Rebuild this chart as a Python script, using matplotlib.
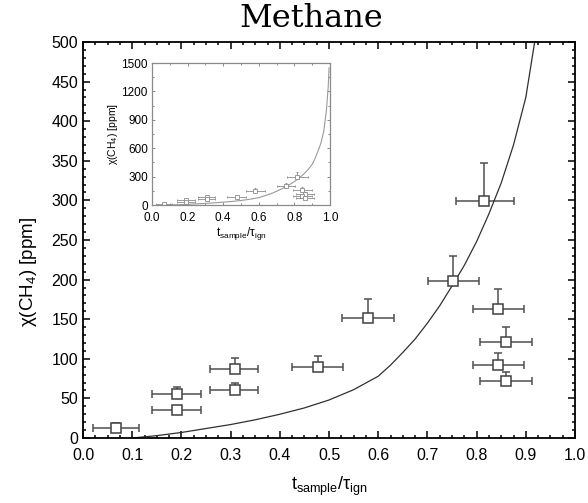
import numpy as np
import matplotlib as mpl
mpl.use("Agg")
import matplotlib.pyplot as plt
from matplotlib.ticker import MultipleLocator

plt.rcParams['font.family'] = ['Liberation Sans', 'DejaVu Sans']
plt.rcParams['mathtext.fontset'] = 'custom'
plt.rcParams['mathtext.rm'] = 'Liberation Sans'
plt.rcParams['mathtext.it'] = 'Liberation Sans:italic'

#%% Data
t_ratio = [0.067, 0.19, 0.19, 0.308, 0.308, 0.477, 0.58, 0.752, 0.816, 0.844, 0.859, 0.844, 0.859]
ch4_ppm = [13, 55.5, 35.4, 87.5, 60, 90, 151.5, 198, 299, 162.5, 121.6, 92, 72.4]
ch4_top = [18.5, 64, 35.4, 101.4, 69, 103.5, 175, 230, 347.6, 188, 140.5, 107, 83.7]
t_low = [0.020, 0.14, 0.14, 0.259, 0.259, 0.424, 0.526, 0.702, 0.758, 0.793, 0.807, 0.793, 0.807]
t_high = [0.114, 0.24, 0.24, 0.356, 0.356, 0.528, 0.633, 0.805, 0.877, 0.897, 0.912, 0.897, 0.912]

# model curve
curve_t = [0.10, 0.15, 0.20, 0.25, 0.30, 0.35, 0.40, 0.45, 0.50, 0.55, 0.60, 0.625, 0.65, 0.675,
           0.70, 0.725, 0.75, 0.775, 0.80, 0.825, 0.85, 0.875, 0.90, 0.918, 0.935, 0.95,
           0.965, 0.98, 0.99, 0.995]
curve_ppm = [0, 3, 7, 12, 17, 23, 30, 38, 48, 61, 78, 92, 108, 125,
             145, 167, 192, 218, 248, 283, 322, 370, 430, 500, 580, 660,
             780, 1000, 1250, 1450]

x = np.array(t_ratio)
y = np.array(ch4_ppm)
yerr = [np.zeros(len(y)), np.array(ch4_top) - y]
xerr = [x - np.array(t_low), np.array(t_high) - x]

fig = plt.figure(figsize=(5.88, 5.03), dpi=100)

ax = fig.add_axes([0.1412, 0.1292, 0.8367, 0.7873])
ax.errorbar(x, y, yerr=yerr, xerr=xerr, fmt='s', mfc='white', mec='#404040',
            ms=7, mew=1.1, ecolor='#505050', elinewidth=1.1, capsize=3, capthick=1.1)
ax.plot(curve_t, curve_ppm, color='#303030', lw=0.9)
ax.set_xlim(0, 1.0)
ax.set_ylim(0, 500)
ax.xaxis.set_major_locator(MultipleLocator(0.1))
ax.xaxis.set_minor_locator(MultipleLocator(0.025))
ax.yaxis.set_major_locator(MultipleLocator(50))
ax.yaxis.set_minor_locator(MultipleLocator(10))
ax.xaxis.set_major_formatter(mpl.ticker.FormatStrFormatter('%.1f'))
ax.tick_params(which='both', direction='in', top=True, right=True, labelsize=11.5, width=1.1)
ax.tick_params(axis='x', pad=7)
ax.tick_params(which='major', length=5)
ax.tick_params(which='minor', length=2.5)
for s in ax.spines.values():
    s.set_linewidth(1.3)
ax.set_xlabel("t$_\\mathrm{sample}$/τ$_\\mathrm{ign}$", fontsize=13, labelpad=9)
ax.set_ylabel("χ(CH$_4$) [ppm]", fontsize=13.5)
ax.yaxis.set_label_coords(-0.09, 0.42)

fig.text(0.53, 0.963, "Methane", family='DejaVu Serif', fontsize=23, ha='center', va='center')

#%% Inset
ins = fig.add_axes([0.2585, 0.5924, 0.3027, 0.2823])
gray = '#8a8a8a'
ins.errorbar(x, y, yerr=yerr, xerr=xerr, fmt='s', mfc='white', mec=gray,
             ms=2.5, mew=0.6, ecolor=gray, elinewidth=0.6, capsize=1, capthick=0.6)
ins.plot(curve_t, curve_ppm, color='#9a9a9a', lw=0.8)
ins.set_xlim(0, 1.0)
ins.set_ylim(0, 1500)
ins.xaxis.set_major_locator(MultipleLocator(0.2))
ins.xaxis.set_minor_locator(MultipleLocator(0.1))
ins.yaxis.set_major_locator(MultipleLocator(300))
ins.yaxis.set_minor_locator(MultipleLocator(150))
ins.xaxis.set_major_formatter(mpl.ticker.FormatStrFormatter('%.1f'))
ins.tick_params(which='both', direction='in', top=True, right=True, labelsize=8.5,
                color=gray, width=0.7, pad=3)
ins.tick_params(axis='x', pad=5)
ins.tick_params(which='major', length=2.5)
ins.tick_params(which='minor', length=1.5)
for s in ins.spines.values():
    s.set_color(gray)
    s.set_linewidth(0.9)
ins.set_xlabel("t$_\\mathrm{sample}$/τ$_\\mathrm{ign}$", fontsize=8.5, labelpad=1)
ins.set_ylabel("χ(CH$_4$) [ppm]", fontsize=7.5, labelpad=1)

fig.savefig("out.png", dpi=100)
